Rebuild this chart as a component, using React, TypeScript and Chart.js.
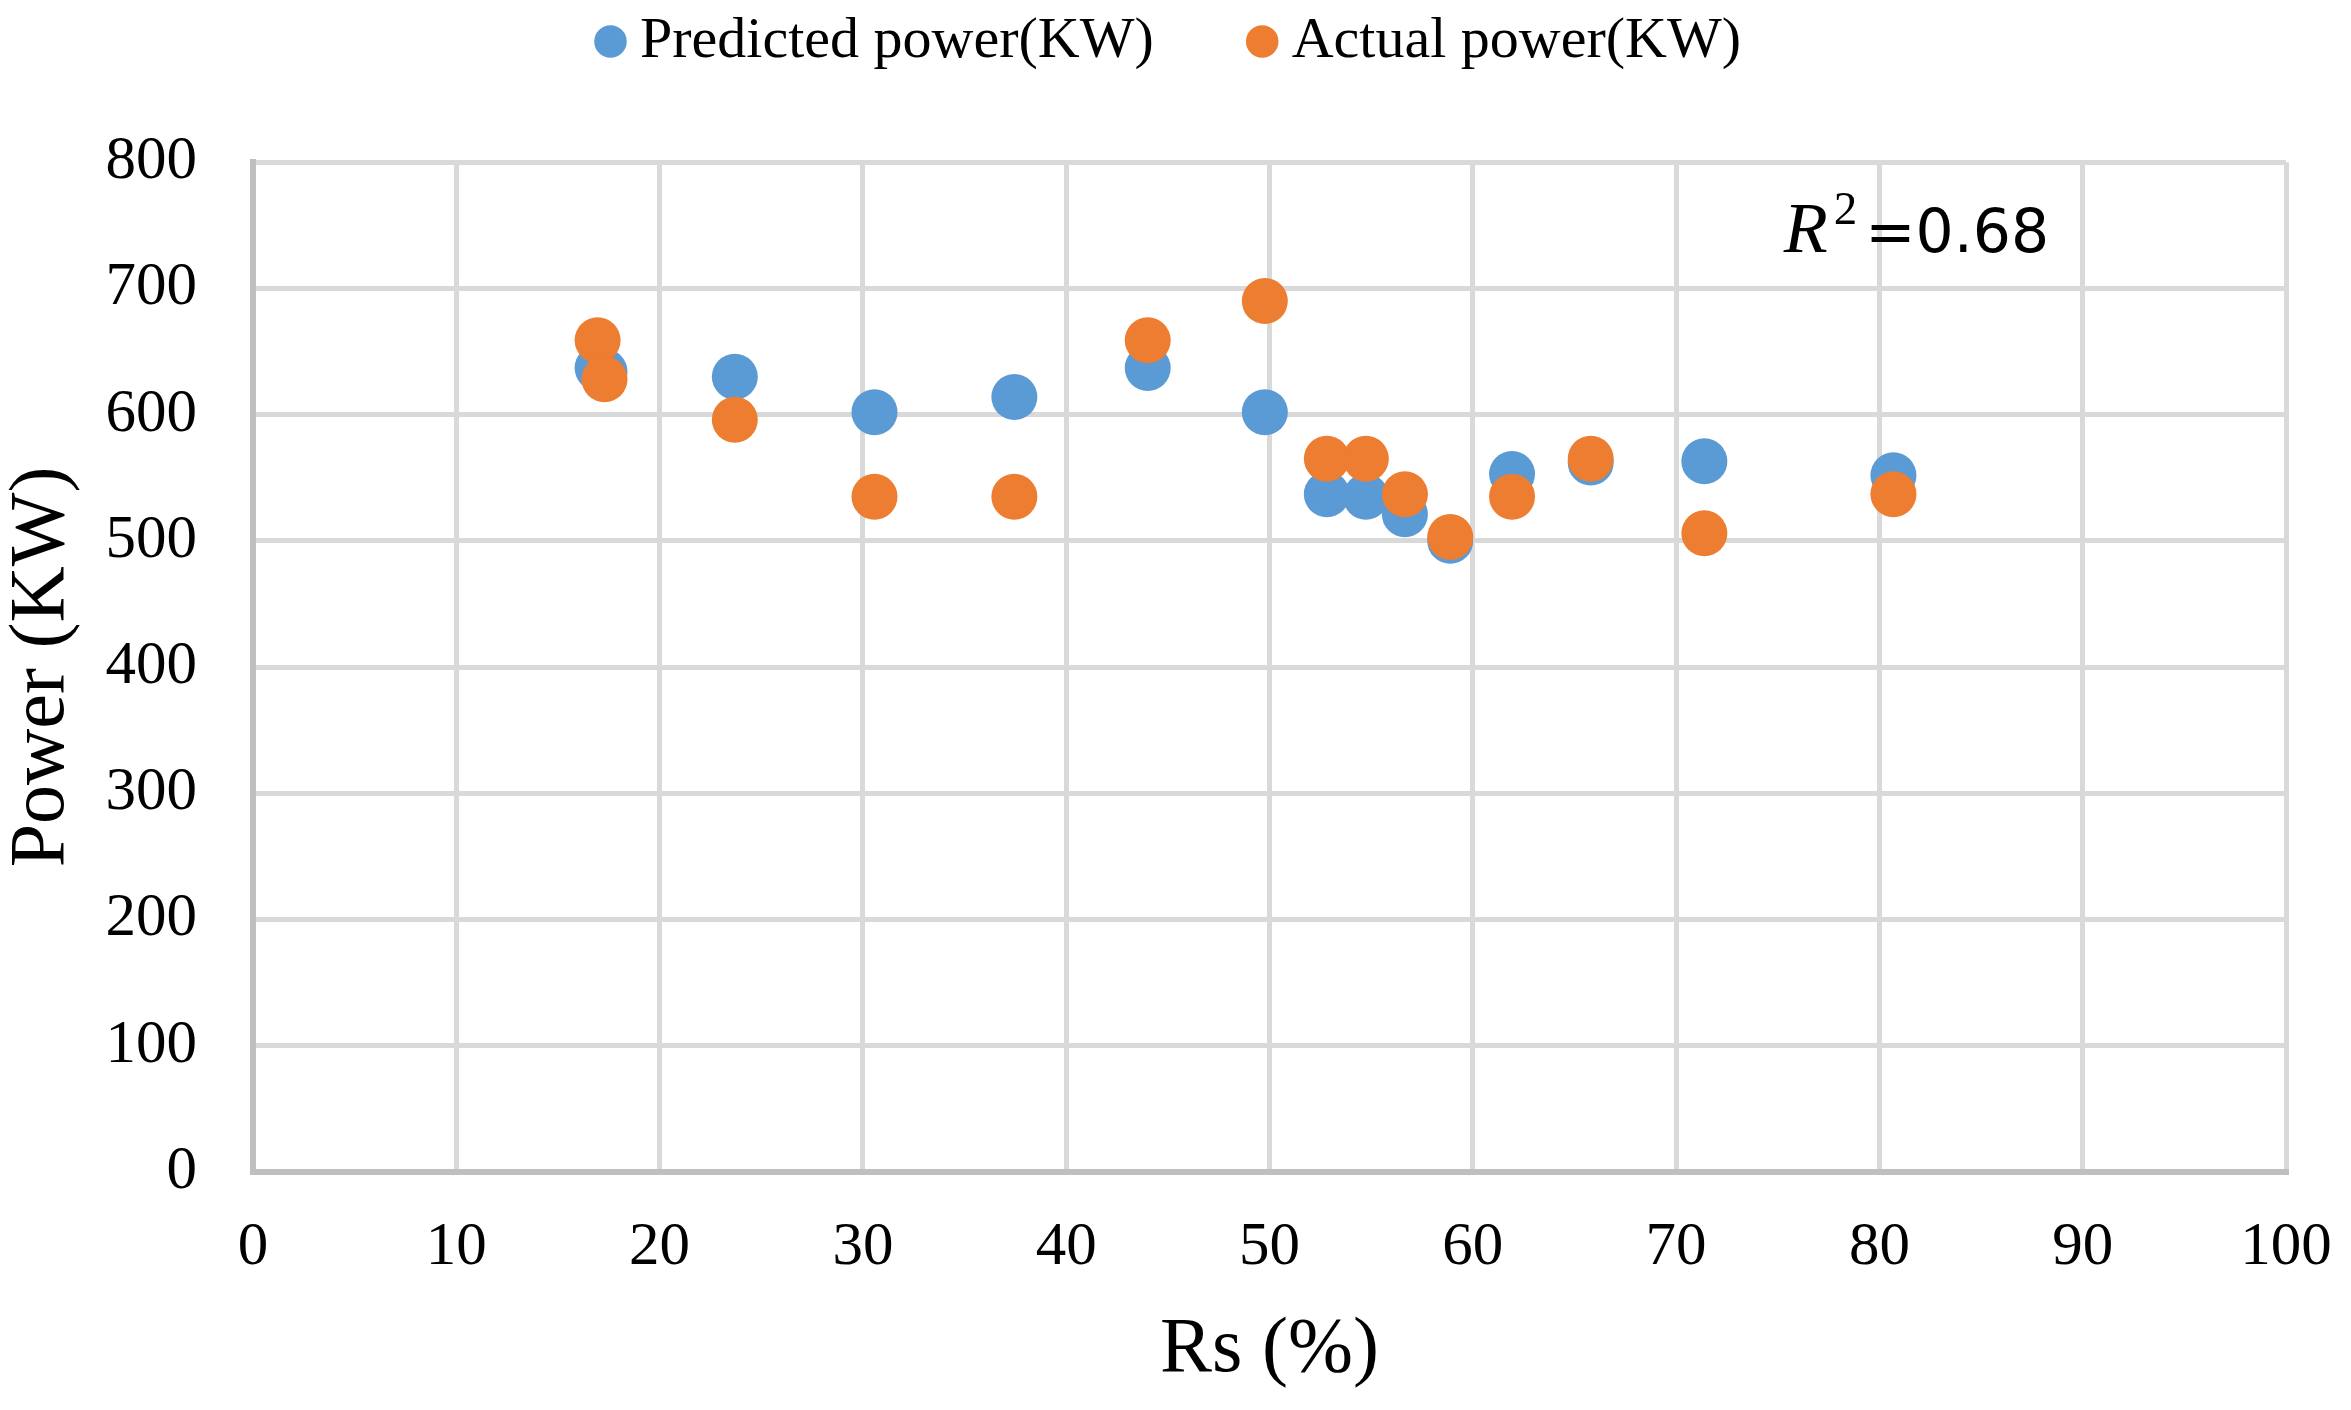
import { useEffect, useRef } from "react";
import { Chart, registerables } from "chart.js";

Chart.register(...registerables);

// Rs (%) for each sample
const rsPercent = [16.95, 17.29, 23.7, 30.57, 37.45, 44.01, 49.77, 52.82, 54.74, 56.66, 58.89, 61.93, 65.8, 71.39, 80.69];
// power in KW
const predictedPower = [637, 634, 630, 602, 614, 637, 602, 537, 535, 521, 500, 553, 562, 563, 552];
const actualPower = [659, 628, 596, 535, 535, 659, 690, 565, 565, 537, 503, 535, 565, 506, 537];

const seriesNames = ["Predicted power(KW)", "Actual power(KW)"];
const r2Value = "=0.68";

const BLUE = "#5B9BD5";
const ORANGE = "#ED7D31";
const SERIF = '"Liberation Serif", "Times New Roman", serif';

const toPoints = (ys: number[]) => rsPercent.map((x, i) => ({ x, y: ys[i] }));

// R² note in the upper right of the plot
const r2Plugin = {
  id: "r2Label",
  afterDraw(chart: any) {
    const { ctx, scales } = chart;
    const px = scales.x.getPixelForValue(75.3);
    const py = scales.y.getPixelForValue(729);
    ctx.save();
    ctx.fillStyle = "#000";
    ctx.textAlign = "left";
    ctx.textBaseline = "alphabetic";
    ctx.font = `italic 72px ${SERIF}`;
    ctx.fillText("R", px, py);
    let cx = px + ctx.measureText("R").width + 6;
    ctx.font = `47px ${SERIF}`;
    ctx.fillText("2", cx, py - 28);
    cx += ctx.measureText("2").width + 8;
    ctx.font = '60px "DejaVu Sans"';
    ctx.fillText(r2Value, cx, py);
    ctx.restore();
  },
};

// legend sits high, with a tall empty band between it and the plot
const legendSpacer = {
  id: "legendSpacer",
  afterInit(chart: any) {
    const legend = chart.legend;
    if (!legend) return;
    const fit = legend.fit;
    legend.fit = function () {
      fit.call(this);
      this.height = 257.8;
    };
  },
};

export default function App() {
  const canvasRef = useRef<HTMLCanvasElement>(null);
  const chartRef = useRef<Chart | null>(null);

  useEffect(() => {
    if (!canvasRef.current) return;
    if (chartRef.current) chartRef.current.destroy();

    Chart.defaults.font.family = SERIF;
    Chart.defaults.color = "#000";

    chartRef.current = new Chart(canvasRef.current, {
      type: "scatter",
      data: {
        datasets: [
          {
            label: seriesNames[0],
            data: toPoints(predictedPower),
            backgroundColor: BLUE,
            borderColor: BLUE,
            borderWidth: 0,
            pointRadius: 23,
            pointHoverRadius: 23,
            order: 1,
          },
          {
            label: seriesNames[1],
            data: toPoints(actualPower),
            backgroundColor: ORANGE,
            borderColor: ORANGE,
            borderWidth: 0,
            pointRadius: 23,
            pointHoverRadius: 23,
            order: 0,
          },
        ],
      },
      options: {
        responsive: true,
        maintainAspectRatio: false,
        animation: false,
        layout: { padding: { left: 0, right: 0, top: -95.5, bottom: 18 } },
        plugins: {
          tooltip: { enabled: false },
          legend: {
            position: "top",
            labels: {
              usePointStyle: true,
              pointStyle: "circle",
              boxWidth: 1,
              boxHeight: 23,
              padding: 108,
              font: { size: 58, family: SERIF },
              color: "#000",
              sort: (a: any, b: any) => a.datasetIndex - b.datasetIndex,
            },
          },
        },
        scales: {
          x: {
            type: "linear",
            min: 0,
            max: 100,
            ticks: { stepSize: 10, padding: 40, font: { size: 61, lineHeight: 1.2 } },
            grid: { color: "#D9D9D9", lineWidth: 5, drawTicks: false },
            border: { color: "#BFBFBF", width: 6 },
            title: {
              display: true,
              text: "Rs (%)",
              font: { size: 78, lineHeight: 1 },
              padding: { top: 0, bottom: 2 },
            },
            afterFit: (scale: any) => {
              scale.height = 220.3;
              scale.paddingRight = 65;
            },
          },
          y: {
            type: "linear",
            min: 0,
            max: 800,
            ticks: { stepSize: 100, padding: 56, font: { size: 61 } },
            grid: { color: "#D9D9D9", lineWidth: 5, drawTicks: false },
            border: { color: "#BFBFBF", width: 6 },
            title: {
              display: true,
              text: "Power (KW)",
              font: { size: 78, lineHeight: 1 },
              padding: { top: 4, bottom: 0 },
            },
            afterFit: (scale: any) => {
              scale.width = 253;
            },
          },
        },
      },
      plugins: [legendSpacer, r2Plugin],
    });

    return () => {
      if (chartRef.current) {
        chartRef.current.destroy();
        chartRef.current = null;
      }
    };
  }, []);

  return (
    <div style={{ position: "absolute", left: 0, top: 0, width: 2351, height: 1410, background: "#fff" }}>
      <canvas ref={canvasRef}></canvas>
    </div>
  );
}
